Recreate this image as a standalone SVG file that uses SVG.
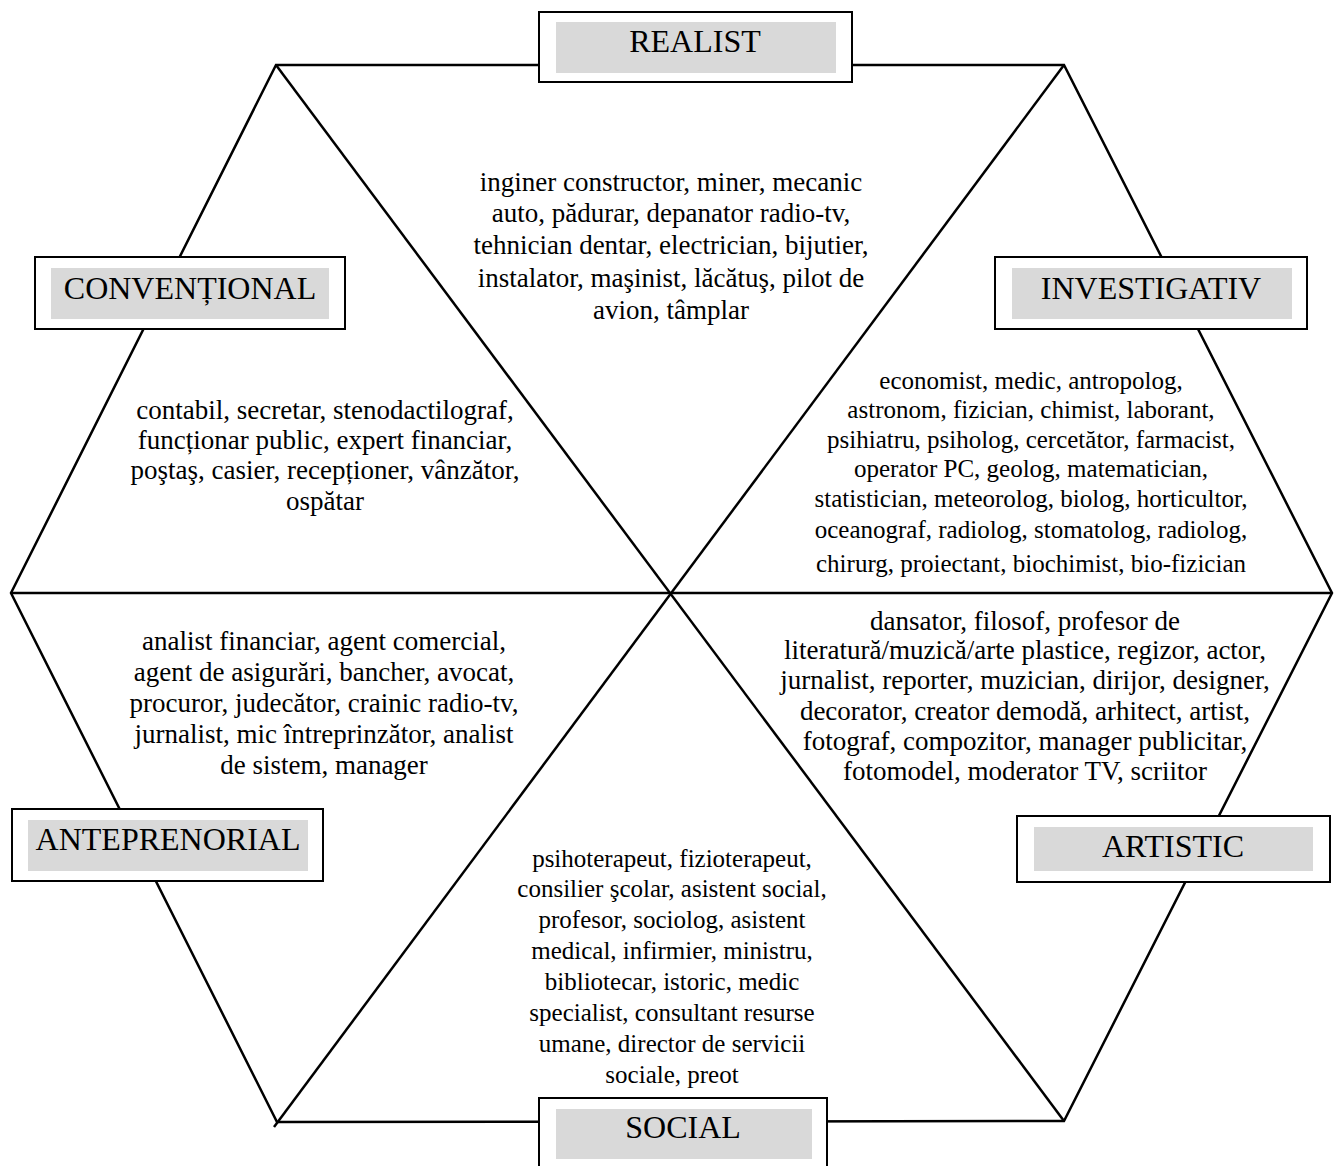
<svg xmlns="http://www.w3.org/2000/svg" width="1338" height="1166" viewBox="0 0 1338 1166">
<style>
.edge{fill:none;stroke:#000;stroke-width:2.5;stroke-linejoin:miter}
.outer{fill:#fff;stroke:#000;stroke-width:2}
.inner{fill:#d9d9d9;stroke:none}
.lbl{font-family:"Liberation Serif","Times New Roman",serif;font-size:32px;fill:#000;text-anchor:middle}
.body{font-family:"Liberation Serif","Times New Roman",serif;font-size:25px;fill:#000;text-anchor:middle}
.big{font-size:27px}
</style>
<rect width="1338" height="1166" fill="#fff"/>
<g id="connectors">
<polygon class="edge" points="276,65 1064,65 1332,593 1064,1121 277,1122 11,593"/>
<line class="edge" x1="276" y1="65" x2="1064" y2="1121"/>
<line class="edge" x1="1064" y1="65" x2="274" y2="1127"/>
<line class="edge" x1="11" y1="593" x2="1332" y2="593"/>
</g>
<g id="realist">
<rect class="outer" x="539" y="12" width="313" height="70"/>
<rect class="inner" x="556" y="22" width="280" height="51"/>
<text class="lbl" x="695" y="52">REALIST</text>
</g>
<g id="conventional">
<rect class="outer" x="35" y="257" width="310" height="72"/>
<rect class="inner" x="51" y="268" width="278" height="51"/>
<text class="lbl" x="190" y="299">CONVENȚIONAL</text>
</g>
<g id="investigativ">
<rect class="outer" x="995" y="257" width="312" height="72"/>
<rect class="inner" x="1012" y="268" width="280" height="51"/>
<text class="lbl" x="1151" y="299">INVESTIGATIV</text>
</g>
<g id="antreprenorial">
<rect class="outer" x="12" y="809" width="311" height="72"/>
<rect class="inner" x="28" y="820" width="280" height="51"/>
<text class="lbl" x="168" y="850">ANTEPRENORIAL</text>
</g>
<g id="artistic">
<rect class="outer" x="1017" y="816" width="313" height="66"/>
<rect class="inner" x="1034" y="827" width="279" height="44"/>
<text class="lbl" x="1173" y="857">ARTISTIC</text>
</g>
<g id="social">
<rect class="outer" x="539" y="1098" width="288" height="74"/>
<rect class="inner" x="556" y="1109" width="256" height="50"/>
<text class="lbl" x="683" y="1138">SOCIAL</text>
</g>
<g id="text-realist">
<text class="body big" x="671" y="191">inginer constructor, miner, mecanic</text>
<text class="body big" x="671" y="222">auto, pădurar, depanator radio-tv,</text>
<text class="body big" x="671" y="254">tehnician dentar, electrician, bijutier,</text>
<text class="body big" x="671" y="287">instalator, maşinist, lăcătuş, pilot de</text>
<text class="body big" x="671" y="319">avion, tâmplar</text>
</g>
<g id="text-conventional">
<text class="body big" x="325" y="419">contabil, secretar, stenodactilograf,</text>
<text class="body big" x="325" y="449">funcționar public, expert financiar,</text>
<text class="body big" x="325" y="479">poştaş, casier, recepționer, vânzător,</text>
<text class="body big" x="325" y="510">ospătar</text>
</g>
<g id="text-investigativ">
<text class="body" x="1031" y="389">economist, medic, antropolog,</text>
<text class="body" x="1031" y="418">astronom, fizician, chimist, laborant,</text>
<text class="body" x="1031" y="448">psihiatru, psiholog, cercetător, farmacist,</text>
<text class="body" x="1031" y="477">operator PC, geolog, matematician,</text>
<text class="body" x="1031" y="507">statistician, meteorolog, biolog, horticultor,</text>
<text class="body" x="1031" y="538">oceanograf, radiolog, stomatolog, radiolog,</text>
<text class="body" x="1031" y="572">chirurg, proiectant, biochimist, bio-fizician</text>
</g>
<g id="text-antreprenorial">
<text class="body big" x="324" y="650">analist financiar, agent comercial,</text>
<text class="body big" x="324" y="681">agent de asigurări, bancher, avocat,</text>
<text class="body big" x="324" y="712">procuror, judecător, crainic radio-tv,</text>
<text class="body big" x="324" y="743">jurnalist, mic întreprinzător, analist</text>
<text class="body big" x="324" y="774">de sistem, manager</text>
</g>
<g id="text-artistic">
<text class="body big" x="1025" y="630">dansator, filosof, profesor de</text>
<text class="body big" x="1025" y="659">literatură/muzică/arte plastice, regizor, actor,</text>
<text class="body big" x="1025" y="689">jurnalist, reporter, muzician, dirijor, designer,</text>
<text class="body big" x="1025" y="720">decorator, creator demodă, arhitect, artist,</text>
<text class="body big" x="1025" y="750">fotograf, compozitor, manager publicitar,</text>
<text class="body big" x="1025" y="780">fotomodel, moderator TV, scriitor</text>
</g>
<g id="text-social">
<text class="body" x="672" y="867">psihoterapeut, fizioterapeut,</text>
<text class="body" x="672" y="897">consilier şcolar, asistent social,</text>
<text class="body" x="672" y="928">profesor, sociolog, asistent</text>
<text class="body" x="672" y="959">medical, infirmier, ministru,</text>
<text class="body" x="672" y="990">bibliotecar, istoric, medic</text>
<text class="body" x="672" y="1021">specialist, consultant resurse</text>
<text class="body" x="672" y="1052">umane, director de servicii</text>
<text class="body" x="672" y="1083">sociale, preot</text>
</g>
</svg>
